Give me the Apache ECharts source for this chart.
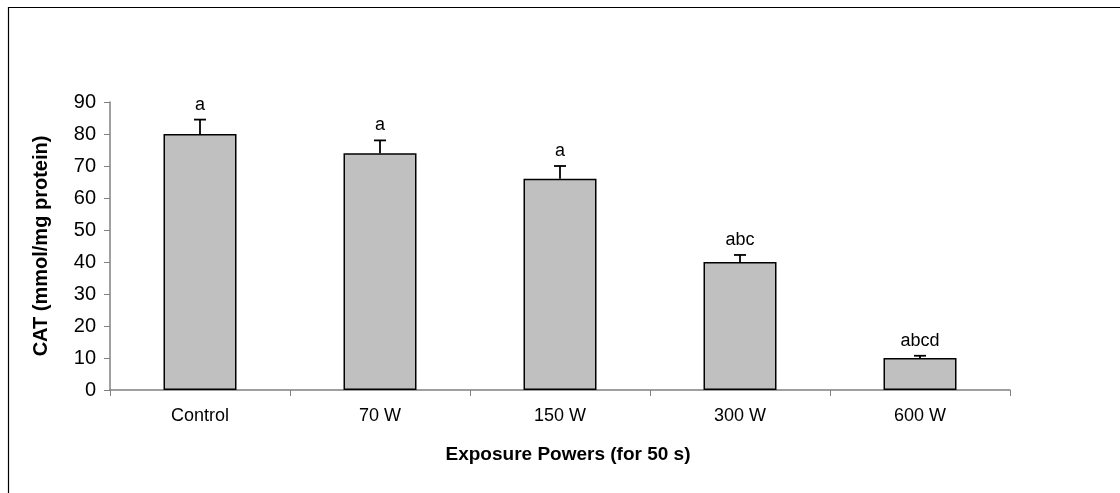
<!DOCTYPE html>
<html>
<head>
<meta charset="utf-8">
<title>CAT</title>
<script src="https://cdn.jsdelivr.net/npm/echarts@6/dist/echarts.min.js"></script>
<style>
  html, body { margin: 0; padding: 0; background: #fff; }
  #chart { width: 1120px; height: 493px; }
</style>
</head>
<body>
<div id="chart"></div>
<script>
// data
const categories = ['Control', '70 W', '150 W', '300 W', '600 W'];
const catValues = [80, 74, 66, 40, 10];
const errTops = [84.5, 78, 70, 42.2, 10.7];
const sigLetters = ['a', 'a', 'a', 'abc', 'abcd'];

const AXIS_GRAY = '#808080';
const FONT = 'Liberation Sans, Arial, sans-serif';

const chart = echarts.init(document.getElementById('chart'));

const errData = categories.map((c, i) => [i, catValues[i], errTops[i], sigLetters[i]]);

const option = {
  backgroundColor: '#fff',
  animation: false,
  textStyle: { fontFamily: FONT, color: '#000' },
  graphic: [
    {
      type: 'rect',
      left: 6,
      top: 5,
      shape: { width: 1300, height: 700 },
      style: { fill: 'none', stroke: '#000', lineWidth: 1.2 },
      silent: true,
    },
  ],
  grid: {
    left: 110,
    right: 110,
    top: 102,
    bottom: 103,
  },
  xAxis: {
    type: 'category',
    data: categories,
    name: 'Exposure Powers (for 50 s)',
    nameLocation: 'middle',
    nameGap: 55,
    nameTextStyle: { fontFamily: FONT, fontSize: 19, fontWeight: 'bold', color: '#000', padding: [0, 0, 0, 16] },
    axisLine: { lineStyle: { color: AXIS_GRAY, width: 1.5 } },
    axisTick: { show: true, inside: false, length: 6, alignWithLabel: false, lineStyle: { color: AXIS_GRAY } },
    axisLabel: { fontFamily: FONT, fontSize: 18, color: '#000', margin: 17 },
  },
  yAxis: {
    type: 'value',
    min: 0,
    max: 90,
    interval: 10,
    name: 'CAT (mmol/mg protein)',
    nameLocation: 'middle',
    nameGap: 59,
    nameTextStyle: { fontFamily: FONT, fontSize: 20, fontWeight: 'bold', color: '#000' },
    axisLine: { show: true, lineStyle: { color: AXIS_GRAY, width: 1.5 } },
    axisTick: { show: true, length: 6, lineStyle: { color: AXIS_GRAY } },
    axisLabel: { fontFamily: FONT, fontSize: 20, color: '#000', margin: 14 },
    splitLine: { show: false },
  },
  series: [
    {
      type: 'bar',
      data: catValues,
      barWidth: 73,
      itemStyle: { color: '#c0c0c0', borderColor: '#000', borderWidth: 1.5 },
      z: 2,
    },
    {
      type: 'custom',
      data: errData,
      z: 3,
      renderItem: (params, api) => {
        const x = api.value(0);
        const base = api.coord([x, api.value(1)]);
        const top = api.coord([x, api.value(2)]);
        const half = 6;
        return {
          type: 'group',
          children: [
            {
              type: 'line',
              shape: { x1: base[0], y1: base[1], x2: top[0], y2: top[1] },
              style: { stroke: '#000', lineWidth: 1.8 },
            },
            {
              type: 'line',
              shape: { x1: top[0] - half, y1: top[1], x2: top[0] + half, y2: top[1] },
              style: { stroke: '#000', lineWidth: 1.8 },
            },
            {
              type: 'text',
              x: top[0],
              y: top[1] - 15,
              style: {
                text: errData[params.dataIndex][3],
                fontFamily: FONT,
                fontSize: 18,
                fill: '#000',
                align: 'center',
                verticalAlign: 'middle',
              },
            },
          ],
        };
      },
    },
  ],
};

chart.setOption(option);
</script>
</body>
</html>
